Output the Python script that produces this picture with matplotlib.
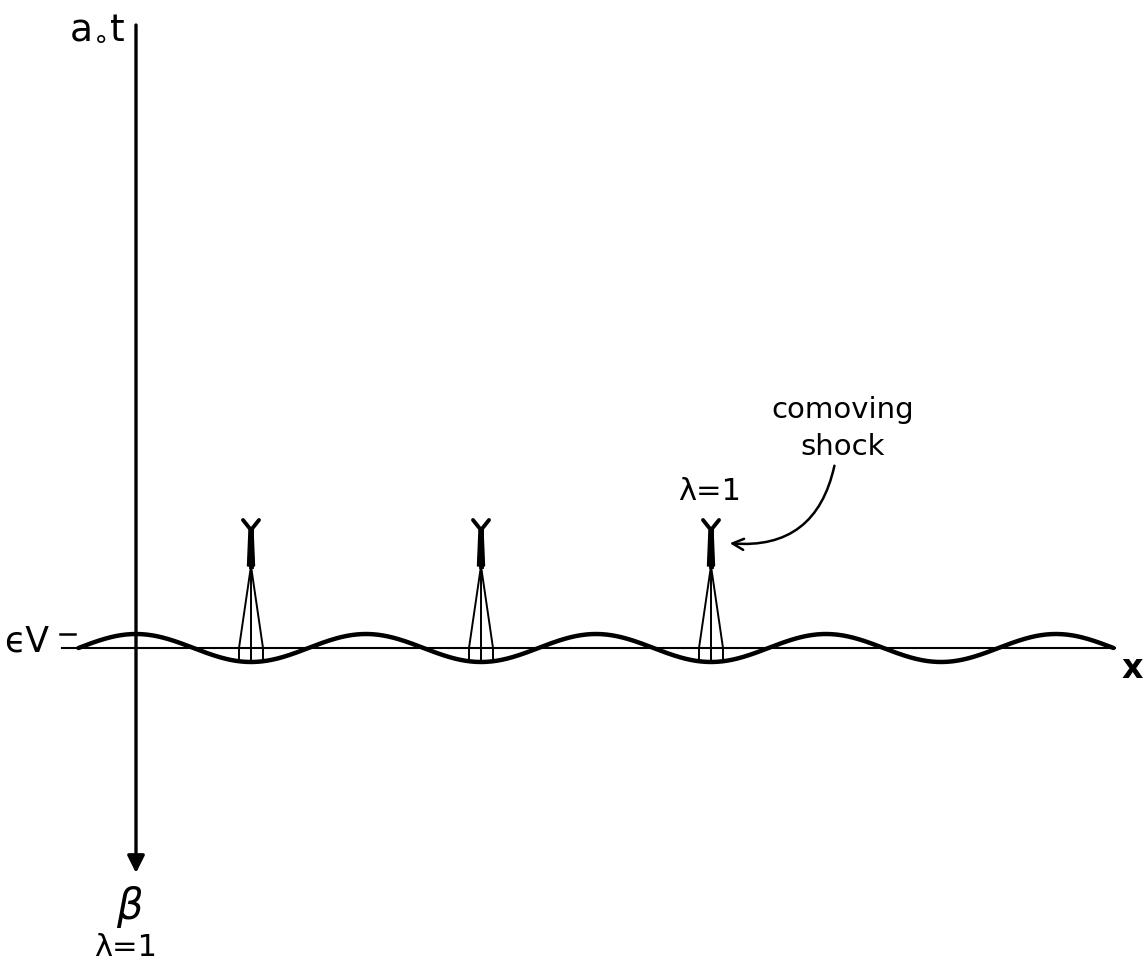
import numpy as np
import matplotlib
matplotlib.use('Agg')
import matplotlib.pyplot as plt
from matplotlib.patches import FancyArrowPatch

# 波形参数 (坐标原点在两轴交点, 单位约为像素)
wave_len = 230.0
wave_amp = 14.0
wave_start = -0.25   # 以波长计
wave_end = 4.25
shock_idx = [0.5, 1.5, 2.5]      # 激波位置 (波谷), 以波长计
fan_spread = [-12, 0, 12]        # 扇形底部偏移
apex_t = 82
spine_t = 118
fork_t = 128
fork_w = 8

base_x = [-74, 979]
axis_t = [623, -225]
tick_level = wave_amp

fig = plt.figure(figsize=(11.47, 9.67), dpi=100)
ax = fig.add_axes([0, 0, 1, 1])
ax.set_xlim(-136, 1011)
ax.set_ylim(-319, 648)
ax.axis('off')

# 纵轴 (向下箭头)
ax.annotate('', xy=(0, axis_t[1]), xytext=(0, axis_t[0]),
            arrowprops=dict(arrowstyle='-|>', lw=2.4, color='black',
                            mutation_scale=26, shrinkA=0, shrinkB=0))

# 基线
ax.plot(base_x, [0, 0], color='black', lw=1.5)
# eV 刻度
ax.plot([-76, -61], [tick_level, tick_level], color='black', lw=1.8)

# 波形
x = np.linspace(wave_start * wave_len, wave_end * wave_len, 800)
y = wave_amp * np.cos(2 * np.pi * x / wave_len)
ax.plot(x, y, color='black', lw=3.2, solid_capstyle='round')

# 激波扇
for k in shock_idx:
    x0 = k * wave_len
    for d in fan_spread:
        yb = wave_amp * np.cos(2 * np.pi * (x0 + d) / wave_len)
        ax.plot([x0 + d, x0 + d], [yb, 0], color='black', lw=1.4)
        ax.plot([x0 + d, x0], [0, apex_t], color='black', lw=1.4)
    ax.fill([x0 - 3.5, x0 + 3.5, x0 + 2, x0 - 2],
            [apex_t, apex_t, spine_t, spine_t], color='black')
    ax.plot([x0, x0], [apex_t, spine_t], color='black', lw=3.5)
    ax.plot([x0 - fork_w, x0, x0 + fork_w], [fork_t, spine_t, fork_t],
            color='black', lw=2.8, solid_capstyle='round')

# 文字
ax.text(-39, 620, r'a$_{\circ}$t', fontsize=27, ha='center', va='center')
ax.text(-109, 6, 'ϵV', fontsize=25, ha='center', va='center')
ax.text(996, -20, 'x', fontsize=24, fontweight='bold', ha='center', va='center')
ax.text(-6, -259, r'$\beta$', fontsize=30, ha='center', va='center')
ax.text(-10, -300, 'λ=1', fontsize=22, ha='center', va='center')
ax.text(574, 156, 'λ=1', fontsize=22, ha='center', va='center')
ax.text(707, 238, 'comoving', fontsize=21, ha='center', va='center')
ax.text(707, 201, 'shock', fontsize=21, ha='center', va='center')

arr = FancyArrowPatch((699, 185), (591, 105), connectionstyle='arc3,rad=-0.45',
                      arrowstyle='->', mutation_scale=20, lw=1.8, color='black')
ax.add_patch(arr)

fig.savefig('out.png', dpi=100, facecolor='white')
